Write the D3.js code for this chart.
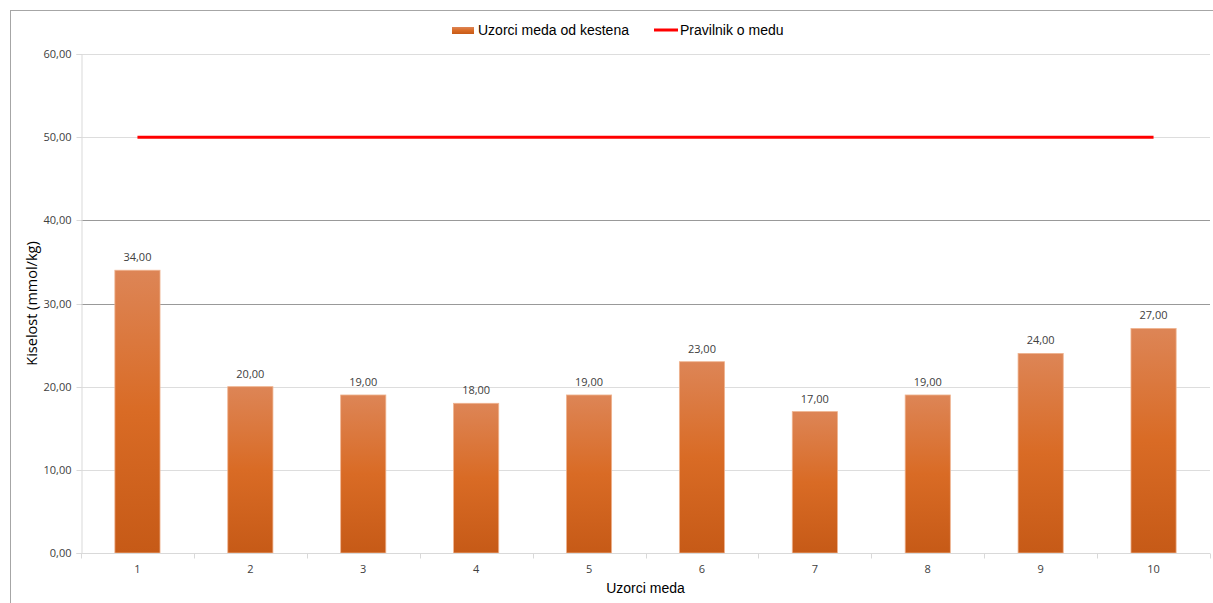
<!DOCTYPE html>
<html>
<head>
<meta charset="utf-8">
<script src="https://cdn.jsdelivr.net/npm/d3@7"></script>
<style>
  body { margin: 0; background: #fff; }
  svg { display: block; }
</style>
</head>
<body>
<svg id="chart" width="1213" height="603"></svg>
<script>
const categories = ["1", "2", "3", "4", "5", "6", "7", "8", "9", "10"];
const sampleValues = [34, 20, 19, 18, 19, 23, 17, 19, 24, 27];
const limitValues = [50, 50, 50, 50, 50, 50, 50, 50, 50, 50];
const yTicks = [0, 10, 20, 30, 40, 50, 60];
const seriesNames = ["Uzorci meda od kestena", "Pravilnik o medu"];
const yTitle = "Kiselost (mmol/kg)";
const xTitle = "Uzorci meda";

const svg = d3.select("#chart");
const W = 1213, H = 603;
const m = { left: 81, right: 3, top: 54, bottom: 50 };
const x0 = m.left, x1 = W - m.right, y0 = H - m.bottom, y1 = m.top;

const fmt = v => d3.format(".2f")(v).replace(".", ",");

// outer frame
svg.append("rect").attr("x", 10.5).attr("y", 10.5).attr("width", 1220).attr("height", 620)
  .attr("fill", "#fff").attr("stroke", "#a6a6a6").attr("stroke-width", 1);

const x = d3.scaleBand().domain(categories).range([x0, x1]).paddingInner(0.6).paddingOuter(0.3);
const xb = d3.scaleBand().domain(categories).range([x0, x1]);
const y = d3.scaleLinear().domain([0, 60]).range([y0, y1]);

const defs = svg.append("defs");
const grad = defs.append("linearGradient").attr("id", "barGrad")
  .attr("x1", 0).attr("y1", 0).attr("x2", 0).attr("y2", 1);
grad.append("stop").attr("offset", "0%").attr("stop-color", "#dd8556");
grad.append("stop").attr("offset", "50%").attr("stop-color", "#d96b25");
grad.append("stop").attr("offset", "100%").attr("stop-color", "#c65a17");

// gridlines
const darkGrid = new Set([30, 40]);
svg.append("g").selectAll("line").data(yTicks.filter(t => t > 0)).join("line")
  .attr("x1", x0).attr("x2", x1)
  .attr("y1", d => Math.round(y(d)) + 0.5).attr("y2", d => Math.round(y(d)) + 0.5)
  .attr("stroke", d => darkGrid.has(d) ? "#999999" : "#dddddd").attr("stroke-width", 1);

// y axis
const yAxis = d3.axisLeft(y).tickValues(yTicks).tickFormat(fmt).tickSize(5).tickPadding(5);
const gy = svg.append("g").attr("transform", `translate(${x0 + 0.5},0)`).call(yAxis);
gy.select(".domain").attr("stroke", "#d9d9d9");
gy.selectAll(".tick line").attr("stroke", "#d9d9d9");
gy.selectAll(".tick text").attr("fill", "#404040").style("font-family", "'Open Sans', sans-serif").style("font-size", "11px");
gy.selectAll(".tick").attr("transform", d => `translate(0,${Math.round(y(d)) + 0.5})`);

// bars
svg.append("g").selectAll("rect").data(sampleValues).join("rect")
  .attr("x", (d, i) => x(categories[i]))
  .attr("y", d => y(d))
  .attr("width", x.bandwidth())
  .attr("height", d => y(0) - y(d))
  .attr("fill", "url(#barGrad)")
  .attr("stroke", "#efb38f").attr("stroke-width", 0.8);

// x axis
const gx = svg.append("g").attr("transform", `translate(0,${y0 + 0.5})`);
gx.append("line").attr("x1", x0).attr("x2", x1).attr("stroke", "#d9d9d9");
const bounds = categories.map(c => xb(c)).concat([x1]);
gx.selectAll("line.tk").data(bounds).join("line").attr("class", "tk")
  .attr("x1", d => Math.round(d) + 0.5).attr("x2", d => Math.round(d) + 0.5)
  .attr("y1", 0).attr("y2", 5).attr("stroke", "#d9d9d9");
gx.selectAll("text").data(categories).join("text")
  .attr("x", d => xb(d) + xb.bandwidth() / 2).attr("y", 19)
  .attr("text-anchor", "middle").attr("fill", "#404040")
  .style("font-family", "'Open Sans', sans-serif").style("font-size", "11px")
  .text(d => d);

// data labels
svg.append("g").selectAll("text").data(sampleValues).join("text")
  .attr("x", (d, i) => x(categories[i]) + x.bandwidth() / 2)
  .attr("y", d => y(d) - 9)
  .attr("text-anchor", "middle").attr("fill", "#404040")
  .style("font-family", "'Open Sans', sans-serif").style("font-size", "11px")
  .text(d => fmt(d));

// limit line
const line = d3.line().x((d, i) => xb(categories[i]) + xb.bandwidth() / 2).y(d => y(d));
svg.append("path").datum(limitValues).attr("d", line)
  .attr("fill", "none").attr("stroke", "#ff0000").attr("stroke-width", 3);

// titles
svg.append("text").attr("x", (x0 + x1) / 2).attr("y", 593).attr("text-anchor", "middle")
  .attr("fill", "#000").style("font-family", "'Liberation Sans', Arial, sans-serif").style("font-size", "14px")
  .text(xTitle);
svg.append("text").attr("transform", `translate(37,${(y0 + y1) / 2}) rotate(-90)`)
  .attr("text-anchor", "middle").attr("fill", "#000")
  .style("font-family", "'Open Sans', sans-serif").style("font-size", "14.5px")
  .text(yTitle);

// legend
const lg = svg.append("g").style("font-family", "'Liberation Sans', Arial, sans-serif").style("font-size", "14px");
lg.append("rect").attr("x", 452).attr("y", 27).attr("width", 22).attr("height", 7).attr("fill", "url(#barGrad)");
lg.append("text").attr("x", 478).attr("y", 35).attr("fill", "#000").text(seriesNames[0]);
lg.append("line").attr("x1", 654).attr("x2", 678).attr("y1", 30).attr("y2", 30).attr("stroke", "#ff0000").attr("stroke-width", 3);
lg.append("text").attr("x", 680).attr("y", 35).attr("fill", "#000").text(seriesNames[1]);
</script>
</body>
</html>
